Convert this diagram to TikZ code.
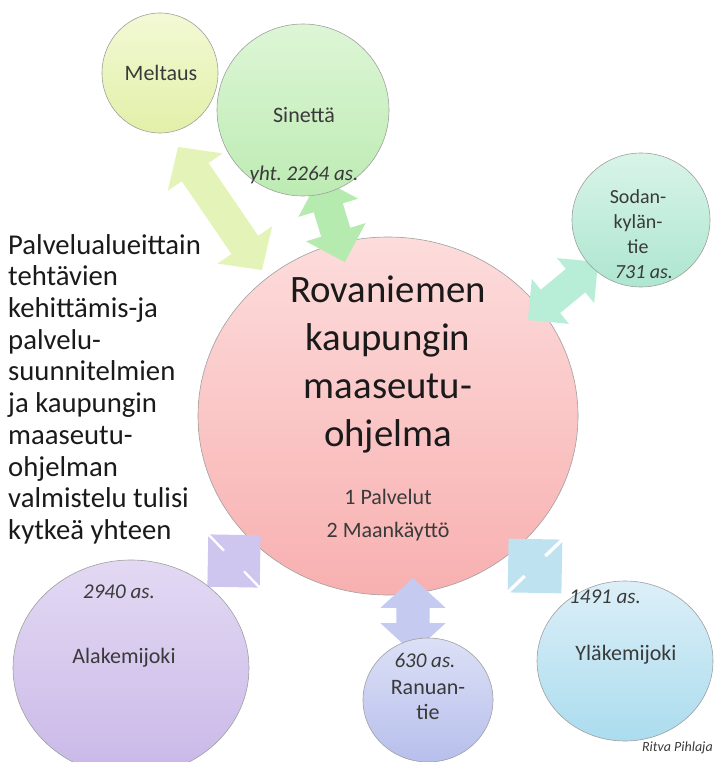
\documentclass[tikz,border=0pt]{standalone}
\usepackage{fontspec}
\setmainfont{Carlito}
\usetikzlibrary{shapes.geometric,shapes.arrows}

\definecolor{pinkA}{HTML}{FDDCDC}
\definecolor{pinkB}{HTML}{F8B0B0}
\definecolor{meltA}{HTML}{F3F9D5}
\definecolor{meltB}{HTML}{E2F0A8}
\definecolor{sinA}{HTML}{DDF6D6}
\definecolor{sinB}{HTML}{BDEBB3}
\definecolor{sodA}{HTML}{D8F4E8}
\definecolor{sodB}{HTML}{AEE6D0}
\definecolor{ylaA}{HTML}{DCEFF8}
\definecolor{ylaB}{HTML}{ABDCEE}
\definecolor{ranA}{HTML}{DCE0F6}
\definecolor{ranB}{HTML}{B7BFEC}
\definecolor{alaA}{HTML}{E3D9F3}
\definecolor{alaB}{HTML}{C9B8E8}
\definecolor{meltArr}{HTML}{E4F4B9}
\definecolor{sinArr}{HTML}{B5EBAE}
\definecolor{sodArr}{HTML}{B8EDD8}
\definecolor{alaArr}{HTML}{CEC6EE}
\definecolor{ylaArr}{HTML}{BFE2F1}
\definecolor{ranArr}{HTML}{C5CAF0}
\definecolor{txtgray}{HTML}{3A3A3A}
\definecolor{txtdark}{HTML}{1A1A1A}

\begin{document}
\begin{tikzpicture}[x=1pt,y=-1pt,
    bubble/.style={ellipse,draw=gray!75,line width=0.6pt,inner sep=0pt},
    link/.style={double arrow,draw=none,inner xsep=0pt,inner ysep=15pt,
        double arrow head extend=14pt},
    lbl/.style={font=\fontsize{22}{26}\selectfont,text=txtgray,align=center,inner sep=0pt},
    num/.style={font=\itshape\fontsize{21}{25}\selectfont,text=txtgray,inner sep=0pt}]
    \clip (0,0) rectangle (715,762);

    % --- centre ---
    \node[bubble,minimum width=380pt,minimum height=358pt,
        top color=pinkA,bottom color=pinkB] (rova) at (388,416) {};

    % --- double arrows ---
    \node[link,fill=meltArr,rotate=-55.7,inner ysep=16pt,
        double arrow head extend=17pt,double arrow tip angle=95,
        minimum height=149pt] (a-melt) at (220,208.5) {};
    \node[link,fill=sinArr,rotate=-73,double arrow head extend=16pt,
        minimum height=88pt] (a-sin) at (332,220) {};
    \node[link,fill=sodArr,rotate=39.6,minimum height=91pt] (a-sod) at (563,291) {};
    \node[link,fill=ranArr,rotate=90,inner ysep=16.5pt,
        double arrow head extend=16pt,double arrow tip angle=95,
        minimum height=75pt] (a-ran) at (413,615.5) {};
    \node[link,fill=alaArr,rotate=44,inner ysep=14pt,
        double arrow head extend=21.5pt,minimum height=74pt] (a-ala) at (234,561) {};
    \node[link,fill=ylaArr,rotate=-46,inner ysep=14pt,
        double arrow head extend=22pt,minimum height=76pt] (a-yla) at (535,566) {};

    % --- satellites ---
    \node[bubble,minimum width=116pt,minimum height=120pt,
        top color=meltA,bottom color=meltB] (melt) at (160,73) {};
    \node[bubble,minimum width=172pt,minimum height=172pt,
        top color=sinA,bottom color=sinB] (sin) at (303,110) {};
    \node[bubble,minimum width=138pt,minimum height=134pt,
        top color=sodA,bottom color=sodB] (sod) at (641,220) {};
    \node[bubble,minimum width=176pt,minimum height=160pt,
        top color=ylaA,bottom color=ylaB] (yla) at (625,661) {};
    \node[bubble,minimum width=130pt,minimum height=124pt,
        top color=ranA,bottom color=ranB] (ran) at (428,700) {};
    \node[bubble,minimum width=236pt,minimum height=216pt,
        top color=alaA,bottom color=alaB] (ala) at (131,668) {};

    % --- texts ---
    \node[font=\fontsize{38.8}{48}\selectfont,text=txtdark,align=center,inner sep=0pt]
        (rova-t) at (388,364) {Rovaniemen\\kaupungin\\maaseutu-\\ohjelma};
    \node[lbl] (rova-1) at (388,497) {1 Palvelut};
    \node[lbl] (rova-2) at (388,532) {2 Maankäyttö};

    \node[font=\fontsize{28.7}{31.7}\selectfont,text=txtdark,align=left,
        inner sep=0pt,anchor=north west] (note) at (8,234)
        {Palvelualueittain\\tehtävien\\kehittämis-ja\\palvelu-\\suunnitelmien\\
         ja kaupungin\\maaseutu-\\ohjelman\\valmistelu tulisi\\kytkeä yhteen};

    \node[lbl] (melt-t) at (161,73) {Meltaus};
    \node[lbl] (sin-t) at (304,115) {Sinettä};
    \node[num] (sin-n) at (304,175) {yht.\ 2264 as.};
    \node[lbl,font=\fontsize{20}{25}\selectfont] (sod-t) at (638,222) {Sodan-\\kylän-\\tie};
    \node[num,font=\itshape\fontsize{20}{25}\selectfont] (sod-n) at (644,272) {731 as.};
    \node[num] (ran-n) at (425,660) {630 as.};
    \node[lbl,font=\fontsize{22}{25}\selectfont] (ran-t) at (428,700.5) {Ranuan-\\tie};
    \node[num] (yla-n) at (605,597) {1491 as.};
    \node[lbl] (yla-t) at (626,655) {Yläkemijoki};
    \node[num] (ala-n) at (119,592) {2940 as.};
    \node[lbl] (ala-t) at (124,658) {Alakemijoki};
    \node[font=\itshape\fontsize{14}{16}\selectfont,text=txtgray,inner sep=0pt,
        anchor=east] (sign) at (713,748) {Ritva Pihlaja};
\end{tikzpicture}
\end{document}
